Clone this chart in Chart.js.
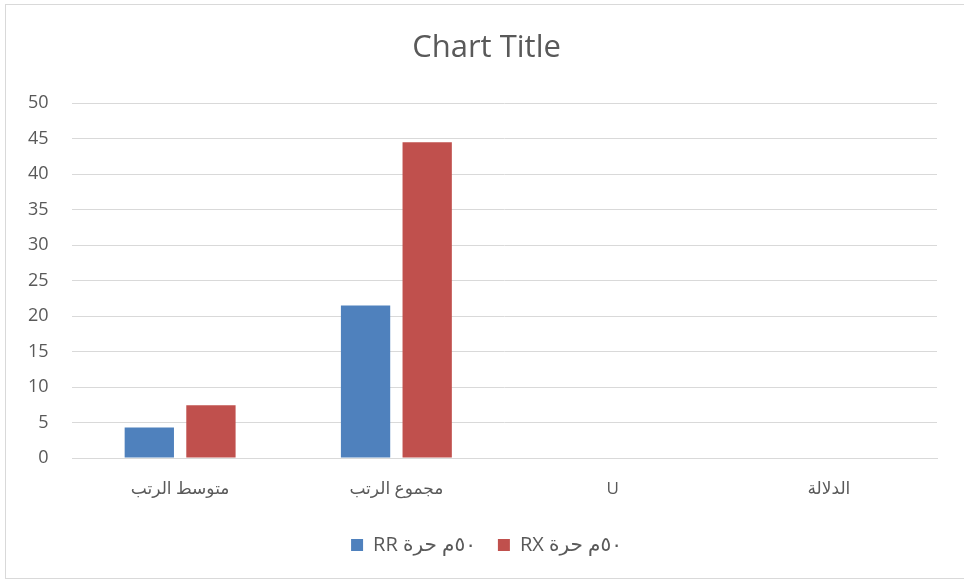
<!DOCTYPE html>
<html>
<head>
<meta charset="utf-8">
<script src="https://cdn.jsdelivr.net/npm/chart.js@4"></script>
<style>
    body { margin: 0; background: #fff; overflow: hidden; }
    #caja { position: relative; width: 964px; height: 580px; }
    #marco { position: absolute; left: 5px; top: 4px; width: 970px; height: 573px; border: 1px solid #d9d9d9; pointer-events: none; }
</style>
</head>
<body>
<div id="caja">
    <canvas id="grafica" width="964" height="580"></canvas>
    <div id="marco"></div>
</div>
<script>
const categorias = ["متوسط الرتب", "مجموع الرتب", "U", "الدلالة"];
const serieRR = [4.3, 21.5, 0, 0];
const serieRX = [7.42, 44.5, 0, 0];
const nombres = ["٥٠م حرة RR", "٥٠م حرة RX"];
const ticksY = [0, 5, 10, 15, 20, 25, 30, 35, 40, 45, 50];

const fuente = "'Open Sans', 'DejaVu Sans', sans-serif";
const gris = "#595959";

const ctx = document.getElementById("grafica").getContext("2d");

new Chart(ctx, {
    type: "bar",
    data: {
        labels: categorias,
        datasets: [
            {
                label: nombres[0],
                data: serieRR,
                backgroundColor: "#4F81BD",
                categoryPercentage: 0.57,
                barPercentage: 0.8
            },
            {
                label: nombres[1],
                data: serieRX,
                backgroundColor: "#C0504D",
                categoryPercentage: 0.57,
                barPercentage: 0.8
            }
        ]
    },
    options: {
        responsive: false,
        animation: false,
        layout: { padding: { left: 36, right: 27, top: 4, bottom: 15 } },
        plugins: {
            title: {
                display: true,
                text: "Chart Title",
                color: gris,
                font: { family: fuente, size: 31, weight: "normal" },
                padding: { top: 26, bottom: 36 }
            },
            legend: {
                position: "bottom",
                textDirection: "rtl",
                labels: {
                    color: gris,
                    font: { family: fuente, size: 20 },
                    boxWidth: 12,
                    boxHeight: 12,
                    padding: 22
                }
            },
            tooltip: { enabled: false }
        },
        scales: {
            x: {
                grid: { display: false, drawTicks: false },
                border: { display: true, color: "#d9d9d9" },
                ticks: {
                    color: gris,
                    font: { family: fuente, size: 17 },
                    padding: 21
                },
                afterFit: function (s) { s.height = 55; }
            },
            y: {
                min: 0,
                max: 50,
                afterBuildTicks: function (s) { s.ticks = ticksY.map(v => ({ value: v })); },
                grid: { color: "#d9d9d9", drawTicks: false },
                border: { display: false },
                ticks: {
                    color: gris,
                    font: { family: fuente, size: 18 },
                    mirror: true,
                    crossAlign: "far",
                    padding: -44
                },
                afterFit: function (s) { s.width = 36; }
            }
        }
    }
});
</script>
</body>
</html>
